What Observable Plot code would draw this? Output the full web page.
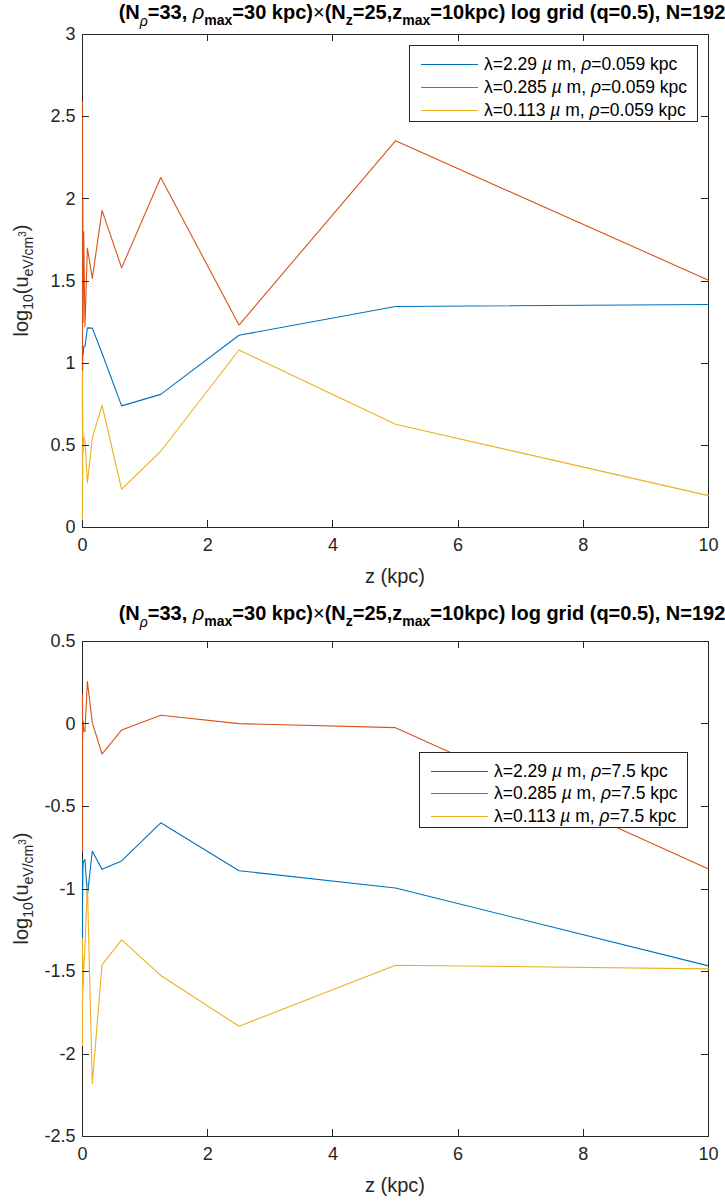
<!DOCTYPE html>
<html><head><meta charset="utf-8">
<script src="https://cdn.jsdelivr.net/npm/d3@7"></script>
<script src="https://cdn.jsdelivr.net/npm/@observablehq/plot@0.6"></script>
<style>
body{margin:0;background:#fff;}
#chart svg{display:block;}
</style></head><body><div id="chart"></div>
<script>
// z grid (kpc), ascending: 0 then log grid 10*0.5^k, k=23..0
const zGrid = [0, 1.192e-6, 2.384e-6, 4.768e-6, 9.537e-6, 1.907e-5, 3.815e-5, 7.629e-5,
  1.526e-4, 3.052e-4, 6.104e-4, 1.221e-3, 2.441e-3, 4.883e-3, 9.766e-3, 0.01953,
  0.03906, 0.07813, 0.1563, 0.3125, 0.625, 1.25, 2.5, 5, 10];

const lambdas = ["2.29", "0.285", "0.113"];
const seriesColors = ["#0072BD", "#D95319", "#EDB120"];
const rhoLabels = ["0.059", "7.5"];

// panel 1: rho = 0.059 kpc
const top229 = [0.65, 0.9, 0.72, 1.05, 0.8, 0.98, 0.7, 1.08, 0.85, 1.1, 0.95, 1.12, 1.0, 1.1, 1.05, 1.1,
  1.10, 1.215, 1.213, 1.06, 0.74, 0.81, 1.17, 1.345, 1.357];
const top285 = [1.0, 2.5, 1.3, 2.59, 1.1, 2.4, 0.95, 2.2, 1.4, 2.55, 1.2, 2.3, 1.6, 2.0, 1.25, 1.8,
  1.22, 1.70, 1.516, 1.93, 1.58, 2.13, 1.232, 2.353, 1.505];
const top113 = [0.05, 0.9, 0.2, 0.95, 0.1, 0.7, 0.3, 0.85, 0.15, 0.6, 0.4, 0.8, 0.25, 0.65, 0.45, 0.55,
  0.53, 0.273, 0.545, 0.743, 0.233, 0.464, 1.08, 0.628, 0.194];

// panel 2: rho = 7.5 kpc
const bot229 = [-1.30, -0.85, -1.2, -0.9, -1.28, -1.0, -1.15, -0.82, -1.25, -0.95, -1.1, -0.88, -1.05, -0.9, -0.85, -0.83,
  -0.822, -1.038, -0.771, -0.881, -0.830, -0.599, -0.889, -0.994, -1.466];
const bot285 = [-0.77, 0.1, -0.5, 0.18, -0.3, -0.6, 0.05, -0.2, -0.7, 0.15, -0.4, 0.0, -0.1, -0.05, 0.02, -0.04,
  -0.047, 0.257, 0.008, -0.182, -0.036, 0.053, 0.002, -0.022, -0.879];
const bot113 = [-1.95, -1.4, -1.8, -1.3, -1.9, -1.5, -1.7, -1.35, -1.85, -1.45, -1.75, -1.55, -1.65, -1.4, -1.6, -1.5,
  -1.35, -0.968, -2.178, -1.460, -1.308, -1.524, -1.832, -1.462, -1.484];

const xTicks = [0, 2, 4, 6, 8, 10];
const topYTicks = [0, 0.5, 1, 1.5, 2, 2.5, 3];
const botYTicks = [-2.5, -2, -1.5, -1, -0.5, 0, 0.5];

const FONT = "'Liberation Sans', Arial, Helvetica, sans-serif";
const INK = "#262626";
const TICK = 7;

function makePanel(opts) {
  const {series, yDomain, yTicks, height, marginTop, marginBottom, rho, legend} = opts;
  const rows = [];
  series.forEach((vals, i) => vals.forEach((v, j) => rows.push({z: zGrid[j], v, s: lambdas[i]})));
  const W = 725, mL = 82, mR = 17;
  const plotW = W - mL - mR, plotH = height - marginTop - marginBottom;
  const top = marginTop, bottom = height - marginBottom, left = mL, right = W - mR;
  const svg = Plot.plot({
    width: W, height, marginLeft: mL, marginRight: mR, marginTop, marginBottom,
    style: {fontFamily: FONT, fontSize: "18px", background: "white", color: INK, overflow: "visible"},
    x: {domain: [0, 10], range: [left, right]},
    y: {domain: yDomain, range: [bottom, top]},
    color: {domain: lambdas, range: seriesColors},
    marks: [
      Plot.frame({stroke: INK, strokeWidth: 1}),
      Plot.axisX(xTicks, {anchor: "bottom", tickSize: 0, tickPadding: 11, tickFormat: d => String(d), label: null}),
      Plot.axisY(yTicks, {anchor: "left", tickSize: 0, tickPadding: 7, tickFormat: d => String(d), label: null}),
      Plot.line(rows, {x: "z", y: "v", stroke: "s", strokeWidth: 1.1})
    ]
  });
  const s = d3.select(svg);
  // same linear mapping as the plot's x and y scales
  const xs = d3.scaleLinear([0, 10], [left, right]);
  const ys = d3.scaleLinear(yDomain, [bottom, top]);

  // inward tick marks on all four sides
  const tickPath = [];
  xTicks.forEach(v => {
    const x = Math.round(xs(v)) + 0.5;
    tickPath.push(`M${x},${bottom}V${bottom - TICK}`, `M${x},${top}V${top + TICK}`);
  });
  yTicks.forEach(v => {
    const y = Math.round(ys(v)) + 0.5;
    tickPath.push(`M${left},${y}H${left + TICK}`, `M${right},${y}H${right - TICK}`);
  });
  s.append("path").attr("d", tickPath.join("")).attr("fill", "none")
    .style("stroke", INK).style("stroke-width", "1px");

  // title
  const t = s.append("text").attr("x", 422).attr("y", 19).attr("text-anchor", "middle")
    .attr("font-family", FONT).attr("font-size", 20).attr("font-weight", "bold").attr("fill", "#000");
  const add = (txt, o = {}) => {
    const sp = t.append("tspan").text(txt);
    if (o.size) sp.attr("font-size", o.size);
    if (o.dy) sp.attr("dy", o.dy);
    if (o.normal) sp.attr("font-weight", "normal");
    if (o.italic) sp.attr("font-style", "italic");
    return sp;
  };
  add("(N");
  add("ρ", {size: 14, dy: 7, normal: true, italic: true});
  add("=33, ", {dy: -7});
  add("ρ", {normal: true, italic: true});
  add("max", {size: 14, dy: 6});
  add("=30 kpc)", {dy: -6});
  add("×", {normal: true});
  add("(N");
  add("z", {size: 14, dy: 6});
  add("=25,z", {dy: -6});
  add("max", {size: 14, dy: 6});
  add("=10kpc) log grid (q=0.5), N=192", {dy: -6});

  // x label
  s.append("text").attr("x", left + plotW / 2).attr("y", bottom + 56).attr("text-anchor", "middle")
    .attr("font-family", FONT).attr("font-size", 20).attr("fill", INK).text("z (kpc)");

  // y label
  const yl = s.append("text").attr("transform", `translate(28,${top + plotH / 2}) rotate(-90)`).attr("text-anchor", "middle")
    .attr("font-family", FONT).attr("font-size", 20).attr("fill", INK);
  yl.append("tspan").text("log");
  yl.append("tspan").attr("font-size", 14).attr("dy", 5).text("10");
  yl.append("tspan").attr("dy", -5).text("(u");
  yl.append("tspan").attr("font-size", 14).attr("dy", 5).text("eV/cm");
  yl.append("tspan").attr("font-size", 10).attr("dy", -7).text("3");
  yl.append("tspan").attr("dy", 2).text(")");

  // legend
  const {x0, y0, w, h, rowY} = legend;
  const lg = s.append("g").attr("font-family", FONT).attr("font-size", 17.5).attr("fill", "#000")
    .attr("text-anchor", "start");
  lg.append("rect").attr("x", x0 + 0.5).attr("y", y0 + 0.5).attr("width", w).attr("height", h)
    .attr("fill", "white").style("stroke", INK).attr("stroke-width", 1);
  lambdas.forEach((lam, i) => {
    const y = Math.round(rowY[i]) + 0.5;
    lg.append("path").attr("d", `M${x0 + 12},${y}H${x0 + 69}`).attr("fill", "none")
      .style("stroke", seriesColors[i]).style("stroke-width", "1.2px");
    const tx = lg.append("text").attr("x", x0 + 75).attr("y", rowY[i]).attr("dy", "0.36em").attr("text-anchor", "start");
    tx.append("tspan").text("λ=" + lam + " ");
    tx.append("tspan").attr("font-style", "italic").text("µ");
    tx.append("tspan").text(" m, ");
    tx.append("tspan").attr("font-style", "italic").text("ρ");
    tx.append("tspan").text("=" + rho + " kpc");
  });
  return svg;
}

const chart = document.getElementById("chart");
chart.appendChild(makePanel({
  series: [top229, top285, top113], yDomain: [0, 3], yTicks: topYTicks,
  height: 601, marginTop: 34, marginBottom: 74, rho: rhoLabels[0],
  legend: {x0: 409, y0: 45, w: 288, h: 76, rowY: [64, 87, 110]}
}));
chart.appendChild(makePanel({
  series: [bot229, bot285, bot113], yDomain: [-2.5, 0.5], yTicks: botYTicks,
  height: 602, marginTop: 40, marginBottom: 67, rho: rhoLabels[1],
  legend: {x0: 419, y0: 151, w: 268, h: 75, rowY: [170, 192, 215]}
}));
</script></body></html>
